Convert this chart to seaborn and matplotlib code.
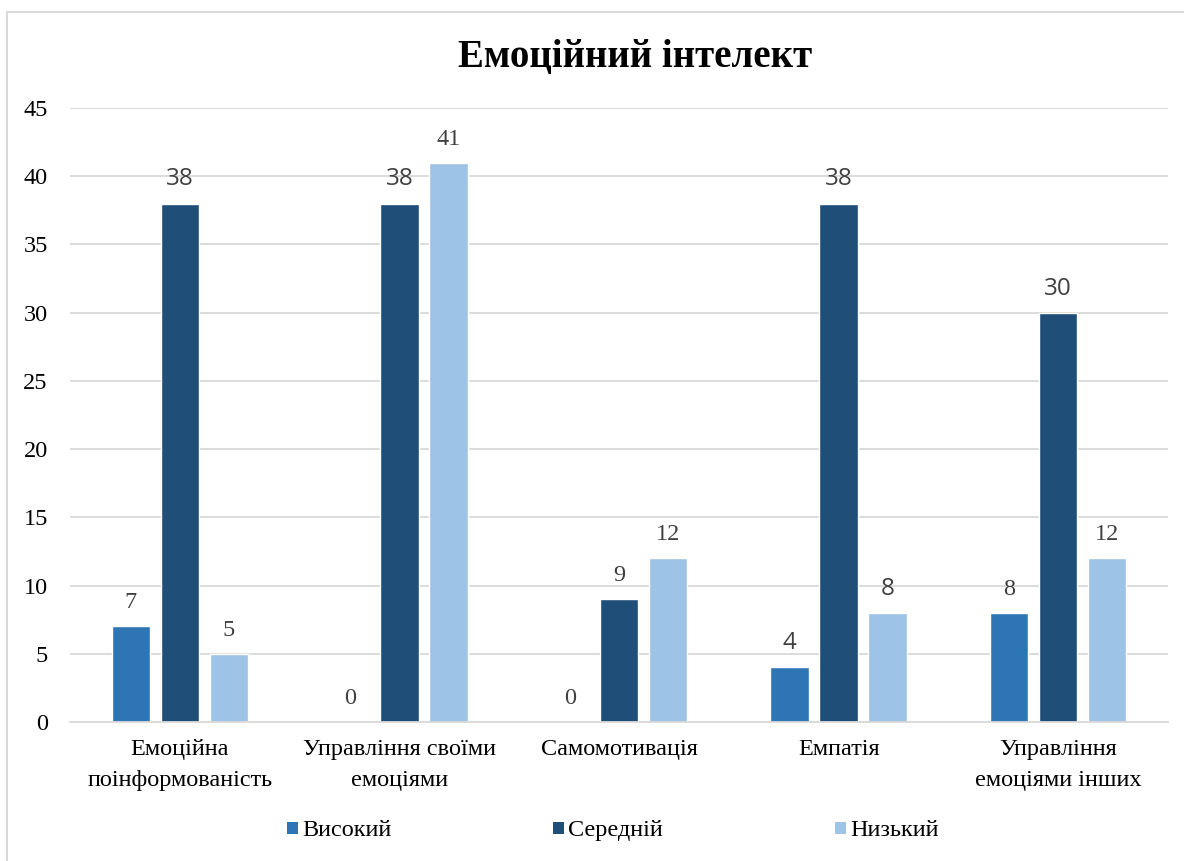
import matplotlib
matplotlib.use("Agg")
import matplotlib.pyplot as plt
from matplotlib.patches import Rectangle
import seaborn as sns
import pandas as pd

# --- data ---
categories = [
    "Емоційна\nпоінформованість",
    "Управління своїми\nемоціями",
    "Самомотивація",
    "Емпатія",
    "Управління\nемоціями інших",
]
levels = ["Високий", "Середній", "Низький"]
high = [7, 0, 0, 4, 8]
medium = [38, 38, 9, 38, 30]
low = [5, 41, 12, 8, 12]
y_ticks = [0, 5, 10, 15, 20, 25, 30, 35, 40, 45]
title = "Емоційний інтелект"

colors = ["#2E75B6", "#1F4E79", "#9DC3E6"]
serif = ["Liberation Serif", "DejaVu Serif"]
sans = ["Open Sans", "DejaVu Sans"]

W, H = 1184, 861

df = pd.DataFrame({
    "category": categories * 3,
    "level": [levels[0]] * 5 + [levels[1]] * 5 + [levels[2]] * 5,
    "value": high + medium + low,
})

sns.set_theme(style="white")
plt.rcParams["font.family"] = serif
plt.rcParams["text.color"] = "#000000"

fig = plt.figure(figsize=(W / 100, H / 100), dpi=100)
ax = fig.add_axes([70 / W, 139 / H, 1098 / W, 614 / H])

sns.barplot(
    data=df, x="category", y="value", hue="level",
    order=categories, hue_order=levels, palette=colors,
    width=0.67, gap=0.215, saturation=1, ax=ax, legend=False,
    errorbar=None,
)

ax.set_ylim(0, 45)
ax.set_yticks(y_ticks)
ax.set_xlim(-0.5, len(categories) - 0.5)
ax.yaxis.grid(True, color="#d9d9d9", linewidth=1.3)
ax.set_axisbelow(True)
for side in ["top", "right", "left"]:
    ax.spines[side].set_visible(False)
ax.spines["bottom"].set_color("#d9d9d9")
ax.spines["bottom"].set_linewidth(1.3)
ax.tick_params(axis="both", length=0, labelsize=17.5, colors="#000000")
ax.tick_params(axis="y", pad=16)
ax.tick_params(axis="x", pad=12)
ax.set_xlabel("")
ax.set_ylabel("")
for lbl in ax.get_xticklabels() + ax.get_yticklabels():
    lbl.set_fontfamily(serif)
for lbl in ax.get_xticklabels():
    lbl.set_linespacing(1.65)

# value labels above each bar
for ci, container in enumerate(ax.containers):
    for ri, (bar, val) in enumerate(zip(container, [high, medium, low][ci])):
        use_sans = (ci == 1 and val != 9) or ri == 3
        ax.annotate(
            f"{val}",
            (bar.get_x() + bar.get_width() / 2, val),
            xytext=(0, 13), textcoords="offset points",
            ha="center", va="baseline", fontsize=17.5, color="#404040",
            family=sans if use_sans else serif,
        )

fig.text(635 / W, 1 - 57 / H, title, ha="center", va="center",
         fontsize=28, fontweight="bold", family=serif, color="#000000")

# legend row below the plot: square swatch followed by the level name
legend_x = [287, 553, 835]
for x0, color, name in zip(legend_x, colors, levels):
    fig.patches.append(Rectangle(
        (x0 / W, 1 - 834 / H), 11 / W, 12 / H,
        transform=fig.transFigure, facecolor=color, edgecolor="none",
    ))
    fig.text((x0 + 15) / W, 1 - 836 / H, name, ha="left", va="baseline",
             fontsize=17.5, family=serif, color="#000000")

# chart frame
fig.patches.append(Rectangle(
    (7 / W, -0.05), 1.1, (H - 12) / H + 0.05,
    transform=fig.transFigure, fill=False, edgecolor="#d9d9d9", linewidth=1.5,
))

fig.savefig("out.png", dpi=100, facecolor="white")
